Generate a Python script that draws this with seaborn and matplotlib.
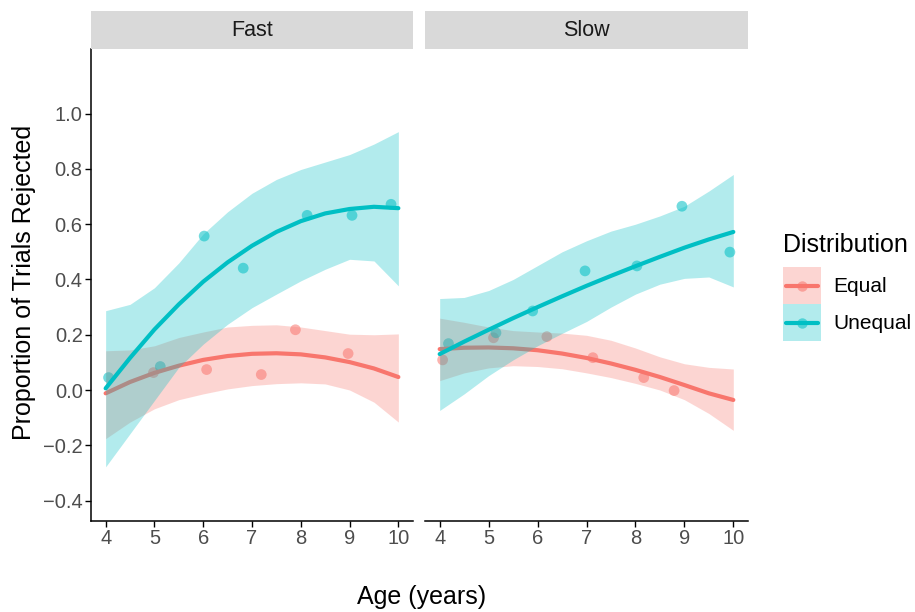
import numpy as np
import pandas as pd
import matplotlib
matplotlib.use("Agg")
import matplotlib.pyplot as plt
import seaborn as sns
from matplotlib.patches import Rectangle
from matplotlib.lines import Line2D
from matplotlib.legend_handler import HandlerBase

sns.set_theme(style="white")
plt.rcParams['font.family'] = ['Liberation Sans', 'DejaVu Sans']

# ---------------- data ----------------
panels = ["Fast", "Slow"]
groups = ["Equal", "Unequal"]

# observed proportions (points)
fast_equal_age = [4.98, 6.07, 7.19, 7.89, 8.97]
fast_equal_prop = [0.063, 0.074, 0.056, 0.218, 0.132]
fast_unequal_age = [4.06, 5.12, 6.02, 6.82, 8.13, 9.05, 9.85]
fast_unequal_prop = [0.045, 0.085, 0.557, 0.441, 0.632, 0.632, 0.672]

slow_equal_age = [4.06, 5.10, 6.19, 7.13, 8.17, 8.79]
slow_equal_prop = [0.109, 0.189, 0.193, 0.117, 0.045, -0.002]
slow_unequal_age = [4.18, 5.15, 5.90, 6.97, 8.03, 8.95, 9.93]
slow_unequal_prop = [0.168, 0.207, 0.286, 0.431, 0.449, 0.665, 0.499]

# smoothed trend and 95% band at these ages
smooth_age = [4, 4.5, 5, 5.5, 6, 6.5, 7, 7.5, 8, 8.5, 9, 9.5, 10]

fast_equal_fit = [-0.012, 0.029, 0.062, 0.088, 0.109, 0.123, 0.131, 0.133, 0.129, 0.118, 0.101, 0.078, 0.047]
fast_equal_lo = [-0.176, -0.116, -0.068, -0.035, -0.014, 0.004, 0.016, 0.023, 0.026, 0.022, 0.0, -0.044, -0.116]
fast_equal_hi = [0.142, 0.145, 0.160, 0.190, 0.210, 0.228, 0.234, 0.236, 0.228, 0.215, 0.202, 0.200, 0.203]

fast_unequal_fit = [0.006, 0.116, 0.219, 0.310, 0.392, 0.462, 0.522, 0.572, 0.611, 0.639, 0.655, 0.663, 0.658]
fast_unequal_lo = [-0.278, -0.158, -0.038, 0.082, 0.166, 0.238, 0.298, 0.347, 0.395, 0.437, 0.473, 0.467, 0.377]
fast_unequal_hi = [0.287, 0.310, 0.370, 0.460, 0.565, 0.645, 0.712, 0.762, 0.798, 0.825, 0.852, 0.890, 0.935]

slow_equal_fit = [0.148, 0.153, 0.154, 0.151, 0.144, 0.132, 0.116, 0.096, 0.073, 0.047, 0.018, -0.012, -0.036]
slow_equal_lo = [0.034, 0.062, 0.080, 0.088, 0.085, 0.077, 0.062, 0.045, 0.024, 0.0, -0.035, -0.085, -0.146]
slow_equal_hi = [0.260, 0.245, 0.228, 0.215, 0.210, 0.206, 0.198, 0.180, 0.152, 0.120, 0.095, 0.082, 0.076]

slow_unequal_fit = [0.130, 0.175, 0.218, 0.260, 0.300, 0.339, 0.377, 0.413, 0.448, 0.482, 0.515, 0.545, 0.572]
slow_unequal_lo = [-0.074, -0.014, 0.052, 0.109, 0.160, 0.205, 0.248, 0.300, 0.347, 0.383, 0.404, 0.409, 0.373]
slow_unequal_hi = [0.331, 0.335, 0.360, 0.400, 0.450, 0.500, 0.540, 0.575, 0.600, 0.630, 0.665, 0.720, 0.780]

age_ticks = [4, 5, 6, 7, 8, 9, 10]
age_tick_labels = ["4", "5", "6", "7", "8", "9", "10"]
prop_ticks = [-0.4, -0.2, 0.0, 0.2, 0.4, 0.6, 0.8, 1.0]
prop_tick_labels = ["\u22120.4", "\u22120.2", "0.0", "0.2", "0.4", "0.6", "0.8", "1.0"]

colors = {"Equal": "#F8766D", "Unequal": "#00BFC4"}

point_sets = {
    ("Fast", "Equal"): (fast_equal_age, fast_equal_prop),
    ("Fast", "Unequal"): (fast_unequal_age, fast_unequal_prop),
    ("Slow", "Equal"): (slow_equal_age, slow_equal_prop),
    ("Slow", "Unequal"): (slow_unequal_age, slow_unequal_prop),
}
smooth_sets = {
    ("Fast", "Equal"): (fast_equal_fit, fast_equal_lo, fast_equal_hi),
    ("Fast", "Unequal"): (fast_unequal_fit, fast_unequal_lo, fast_unequal_hi),
    ("Slow", "Equal"): (slow_equal_fit, slow_equal_lo, slow_equal_hi),
    ("Slow", "Unequal"): (slow_unequal_fit, slow_unequal_lo, slow_unequal_hi),
}

rows = []
for (panel, grp), (ages, props) in point_sets.items():
    for a, p in zip(ages, props):
        rows.append({"Speed": panel, "Distribution": grp, "Age": a, "Prop": p})
df = pd.DataFrame(rows)

srows = []
for (panel, grp), (fit, lo, hi) in smooth_sets.items():
    for a, f, l, h in zip(smooth_age, fit, lo, hi):
        srows.append({"Speed": panel, "Distribution": grp, "Age": a,
                      "Fit": f, "Lo": l, "Hi": h})
sdf = pd.DataFrame(srows)

# ---------------- figure ----------------
W, H = 915, 612
fig = plt.figure(figsize=(W / 100, H / 100), dpi=100)

def fx(px):
    return px / W

def fy(py):
    return 1 - py / H

panel_px = {"Fast": (91, 413), "Slow": (425, 748)}
top_px, strip_top_px, bottom_px = 49, 11, 521

tick_color = "#4D4D4D"

for i, panel in enumerate(panels):
    x0, x1 = panel_px[panel]
    ax = fig.add_axes([fx(x0), fy(bottom_px), fx(x1) - fx(x0), fy(top_px) - fy(bottom_px)])
    sax = fig.add_axes([fx(x0), fy(top_px), fx(x1) - fx(x0), fy(strip_top_px) - fy(top_px)])
    sax.set_facecolor("#D9D9D9")
    for s in sax.spines.values():
        s.set_visible(False)
    sax.set_xticks([])
    sax.set_yticks([])
    sax.text(0.5, 0.5, panel, ha="center", va="center", fontsize=15.5, color="#1A1A1A",
             transform=sax.transAxes)

    sub = df[df["Speed"] == panel]
    sns.scatterplot(data=sub, x="Age", y="Prop", hue="Distribution", hue_order=groups,
                    palette=colors, s=60, alpha=0.55, linewidth=0, legend=False,
                    ax=ax, zorder=1.5)

    for j, grp in enumerate(groups):
        g = sdf[(sdf["Speed"] == panel) & (sdf["Distribution"] == grp)]
        ax.fill_between(g["Age"], g["Lo"], g["Hi"], color=colors[grp], alpha=0.3,
                        linewidth=0, zorder=2 + j * 0.2)
        sns.lineplot(data=g, x="Age", y="Fit", color=colors[grp], linewidth=3, ax=ax,
                     zorder=2.1 + j * 0.2)

    ax.set_xlim(3.7, 10.3)
    ax.set_ylim(-0.474, 1.234)
    ax.set_xticks(age_ticks)
    ax.set_xticklabels(age_tick_labels)
    ax.set_xlabel("")
    ax.set_ylabel("")
    ax.set_facecolor("white")
    for s in ["top", "right"]:
        ax.spines[s].set_visible(False)
    ax.spines["bottom"].set_color("black")
    ax.spines["bottom"].set_linewidth(1.1)
    ax.tick_params(axis="x", length=4, width=1.0, color="black", labelsize=14.5,
                   labelcolor=tick_color, pad=2, bottom=True)
    if i == 0:
        ax.spines["left"].set_color("black")
        ax.spines["left"].set_linewidth(1.1)
        ax.set_yticks(prop_ticks)
        ax.set_yticklabels(prop_tick_labels)
        ax.tick_params(axis="y", length=4, width=1.0, color="black", labelsize=14.5,
                       labelcolor=tick_color, pad=2, left=True)
    else:
        ax.spines["left"].set_visible(False)
        ax.set_yticks(prop_ticks)
        ax.tick_params(axis="y", left=False, labelleft=False)
    ax.grid(False)

# axis titles
fig.text(fx(422), fy(604), "Age (years)", ha="center", va="baseline", fontsize=18,
         color="black")
fig.text(fx(24), fy(282), "Proportion of Trials Rejected", ha="center", va="center",
         rotation=90, fontsize=18, color="black")

# legend
class KeyHandler(HandlerBase):
    def create_artists(self, legend, orig_handle, xdescent, ydescent, width, height,
                       fontsize, trans):
        c = orig_handle.get_color()
        rect = Rectangle((-xdescent, -ydescent), width, height, facecolor=c, alpha=0.3,
                         linewidth=0, transform=trans)
        cy = -ydescent + height / 2
        line = Line2D([-xdescent + 0.08 * width, -xdescent + 0.92 * width], [cy, cy],
                      color=c, linewidth=3, transform=trans)
        dot = Line2D([-xdescent + width / 2], [cy], marker="o", markersize=7.5,
                     color=c, alpha=0.55, linestyle="none", markeredgewidth=0,
                     transform=trans)
        return [rect, line, dot]

handles = [Line2D([], [], color=colors[g]) for g in groups]
fig.text(fx(783), fy(252), "Distribution", ha="left", va="baseline", fontsize=18,
         color="black")
fs_leg = 15
px_per_em = fs_leg * 100 / 72
hh = (37 / px_per_em - 0.245) / 0.65
leg = fig.legend(handles, groups, loc="upper left", bbox_to_anchor=(fx(783), fy(267)),
                 bbox_transform=fig.transFigure, frameon=False, fontsize=fs_leg,
                 handlelength=38 / px_per_em, handleheight=hh, labelspacing=0,
                 handletextpad=12 / px_per_em, borderpad=0, borderaxespad=0,
                 handler_map={Line2D: KeyHandler()})
for t in leg.get_texts():
    t.set_color("black")

fig.savefig("out.png", dpi=100)
